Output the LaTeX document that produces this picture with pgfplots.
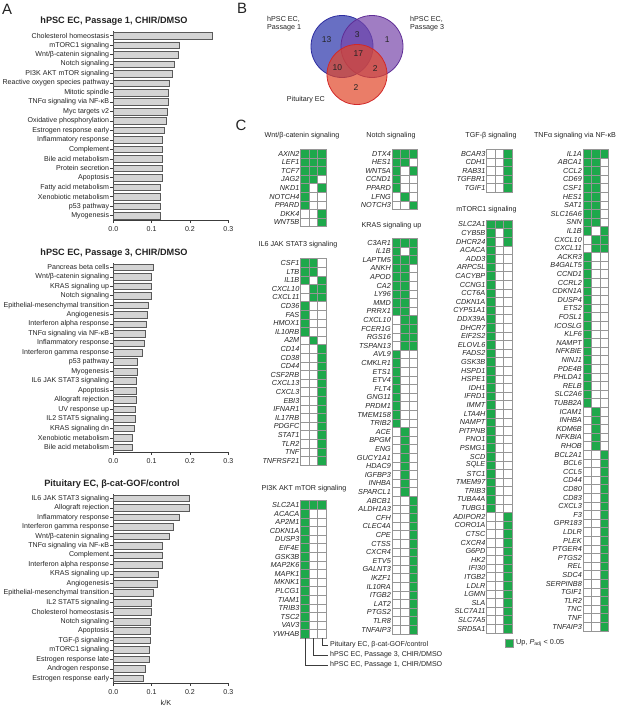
\documentclass[border=0pt]{standalone}
\usepackage{fontspec}
\setmainfont{Liberation Sans}
\usepackage{pgfplots}
\usepackage{pgfplotstable}
\pgfplotsset{compat=1.18}

\definecolor{upgreen}{RGB}{30,168,75}
\definecolor{cellline}{RGB}{150,150,150}
\definecolor{barfill}{RGB}{212,212,212}
\definecolor{bardraw}{RGB}{90,90,90}
\definecolor{axgray}{RGB}{60,60,60}
\definecolor{txt}{RGB}{35,35,35}
\definecolor{vblue}{RGB}{40,50,170}
\definecolor{vbluel}{RGB}{45,45,160}
\definecolor{vpurp}{RGB}{120,70,170}
\definecolor{vpurpl}{RGB}{95,45,150}
\definecolor{vred}{RGB}{225,70,40}
\definecolor{vredl}{RGB}{210,40,40}

\newcommand{\fs}[1]{\fontsize{#1}{#1}\selectfont}

\pgfplotsset{
  barpanel/.style={
    scale only axis, width=115bp, height=189.4bp,
    xmin=0, xmax=0.3, ymin=0.5, ymax=20.5,
    xbar, bar width=6.6bp,
    axis x line*=bottom, axis y line*=left,
    axis line style={-, draw=axgray, line width=0.6bp},
    xtick={0,0.1,0.2,0.3}, xticklabels={0.0,0.1,0.2,0.3},
    ytick={1,...,20},
    tick align=outside, major tick length=2.8bp,
    tick style={draw=axgray, line width=0.6bp},
    tick label style={font=\fs{7.1}, text=txt},
    yticklabel style={inner xsep=1.2bp},
    clip=false,
  },
  hbar/.style={fill=barfill, draw=bardraw, line width=0.5bp},
  gridpanel/.style={
    x=8.5bp, y=8.6bp, y dir=reverse,
    xmin=0.5, xmax=3.5, ymin=0.5,
    axis line style={draw=none}, xtick=\empty,
    major tick length=0pt, ytick style={draw=none},
    yticklabel style={font=\itshape\fs{7.3}, text=txt, inner xsep=1bp},
    point meta min=0, point meta max=1,
    colormap={gw}{color(0cm)=(white); color(1cm)=(upgreen)},
    clip=false,
  },
  cell/.style={only marks, mark=square*, mark size=4.3bp, scatter,
    point meta=explicit,
    scatter/use mapped color={draw=cellline, fill=mapped color, line width=0.45bp}},
}

% gene tables: columns a = Passage 1, b = Passage 3, c = Pituitary
\pgfplotstableread{
g a b c
AXIN2 1 1 1
LEF1 1 1 1
TCF7 1 1 1
JAG2 1 1 0
NKD1 1 0 1
NOTCH4 1 0 0
PPARD 1 0 0
DKK4 0 0 1
WNT5B 0 0 1
}\wnt
\pgfplotstableread{
g a b c
CSF1 1 1 0
LTB 1 1 0
IL1B 1 0 1
CXCL10 0 1 1
CXCL11 0 1 1
CD36 1 0 0
FAS 1 0 0
HMOX1 1 0 0
IL10RB 1 0 0
A2M 0 1 0
CD14 0 0 1
CD38 0 0 1
CD44 0 0 1
CSF2RB 0 0 1
CXCL13 0 0 1
CXCL3 0 0 1
EBI3 0 0 1
IFNAR1 0 0 1
IL17RB 0 0 1
PDGFC 0 0 1
STAT1 0 0 1
TLR2 0 0 1
TNF 0 0 1
TNFRSF21 0 0 1
}\ilsix
\pgfplotstableread{
g a b c
SLC2A1 1 1 1
ACACA 1 0 0
AP2M1 1 0 0
CDKN1A 1 0 0
DUSP3 1 0 0
EIF4E 1 0 0
GSK3B 1 0 0
MAP2K6 1 0 0
MAPK1 1 0 0
MKNK1 1 0 0
PLCG1 1 0 0
TIAM1 1 0 0
TRIB3 1 0 0
TSC2 1 0 0
VAV3 1 0 0
YWHAB 1 0 0
}\pik
\pgfplotstableread{
g a b c
DTX4 1 1 1
HES1 1 1 0
WNT5A 1 0 1
CCND1 1 0 0
PPARD 1 0 0
LFNG 0 1 0
NOTCH3 0 0 1
}\notch
\pgfplotstableread{
g a b c
C3AR1 1 1 1
IL1B 1 0 1
LAPTM5 1 1 1
ANKH 1 1 0
APOD 1 1 0
CA2 1 1 0
LY96 1 1 0
MMD 1 1 0
PRRX1 1 1 0
CXCL10 0 1 1
FCER1G 0 1 1
RGS16 0 1 1
TSPAN13 0 1 1
AVL9 1 0 0
CMKLR1 1 0 0
ETS1 1 0 0
ETV4 1 0 0
FLT4 1 0 0
GNG11 1 0 0
PRDM1 1 0 0
TMEM158 1 0 0
TRIB2 1 0 0
ACE 0 1 0
BPGM 0 1 0
ENG 0 1 0
GUCY1A1 0 1 0
HDAC9 0 1 0
IGFBP3 0 1 0
INHBA 0 1 0
SPARCL1 0 1 0
ABCB1 0 0 1
ALDH1A3 0 0 1
CFH 0 0 1
CLEC4A 0 0 1
CPE 0 0 1
CTSS 0 0 1
CXCR4 0 0 1
ETV5 0 0 1
GALNT3 0 0 1
IKZF1 0 0 1
IL10RA 0 0 1
ITGB2 0 0 1
LAT2 0 0 1
PTGS2 0 0 1
TLR8 0 0 1
TNFAIP3 0 0 1
}\kras
\pgfplotstableread{
g a b c
BCAR3 0 0 1
CDH1 0 0 1
RAB31 0 0 1
TGFBR1 0 0 1
TGIF1 0 0 1
}\tgf
\pgfplotstableread{
g a b c
SLC2A1 1 1 1
CYB5B 1 0 1
DHCR24 1 0 1
ACACA 1 0 0
ADD3 1 0 0
ARPC5L 1 0 0
CACYBP 1 0 0
CCNG1 1 0 0
CCT6A 1 0 0
CDKN1A 1 0 0
CYP51A1 1 0 0
DDX39A 1 0 0
DHCR7 1 0 0
EIF2S2 1 0 0
ELOVL6 1 0 0
FADS2 1 0 0
GSK3B 1 0 0
HSPD1 1 0 0
HSPE1 1 0 0
IDH1 1 0 0
IFRD1 1 0 0
IMMT 1 0 0
LTA4H 1 0 0
NAMPT 1 0 0
PITPNB 1 0 0
PNO1 1 0 0
PSMG1 1 0 0
SCD 1 0 0
SQLE 1 0 0
STC1 1 0 0
TMEM97 1 0 0
TRIB3 1 0 0
TUBA4A 1 0 0
TUBG1 1 0 0
ADIPOR2 0 0 1
CORO1A 0 0 1
CTSC 0 0 1
CXCR4 0 0 1
G6PD 0 0 1
HK2 0 0 1
IFI30 0 0 1
ITGB2 0 0 1
LDLR 0 0 1
LGMN 0 0 1
SLA 0 0 1
SLC7A11 0 0 1
SLC7A5 0 0 1
SRD5A1 0 0 1
}\mtor
\pgfplotstableread{
g a b c
IL1A 1 1 1
ABCA1 1 1 0
CCL2 1 1 0
CD69 1 1 0
CSF1 1 1 0
HES1 1 1 0
SAT1 1 1 0
SLC16A6 1 1 0
SNN 1 1 0
IL1B 1 0 1
CXCL10 0 1 1
CXCL11 0 1 1
ACKR3 1 0 0
B4GALT5 1 0 0
CCND1 1 0 0
CCRL2 1 0 0
CDKN1A 1 0 0
DUSP4 1 0 0
ETS2 1 0 0
FOSL1 1 0 0
ICOSLG 1 0 0
KLF6 1 0 0
NAMPT 1 0 0
NFKBIE 1 0 0
NINJ1 1 0 0
PDE4B 1 0 0
PHLDA1 1 0 0
RELB 1 0 0
SLC2A6 1 0 0
TUBB2A 1 0 0
ICAM1 0 1 0
INHBA 0 1 0
KDM6B 0 1 0
NFKBIA 0 1 0
RHOB 0 1 0
BCL2A1 0 0 1
BCL6 0 0 1
CCL5 0 0 1
CD44 0 0 1
CD80 0 0 1
CD83 0 0 1
CXCL3 0 0 1
F3 0 0 1
GPR183 0 0 1
LDLR 0 0 1
PLEK 0 0 1
PTGER4 0 0 1
PTGS2 0 0 1
REL 0 0 1
SDC4 0 0 1
SERPINB8 0 0 1
TGIF1 0 0 1
TLR2 0 0 1
TNC 0 0 1
TNF 0 0 1
TNFAIP3 0 0 1
}\tnf

\newcommand{\cells}[1]{%
  \addplot[cell] table[x expr=1, y expr=\coordindex+1, meta=a]{#1};
  \addplot[cell] table[x expr=2, y expr=\coordindex+1, meta=b]{#1};
  \addplot[cell] table[x expr=3, y expr=\coordindex+1, meta=c]{#1};
}

\begin{document}
\begin{tikzpicture}
\path[use as bounding box] (0,0) rectangle (617bp,-710bp);

% ---------- panel letters ----------
\node[font=\fs{15}, text=txt] at (7bp,-9bp) {A};
\node[font=\fs{15}, text=txt] at (242bp,-8bp) {B};
\node[font=\fs{15}, text=txt] at (241bp,-125bp) {C};

% ---------- panel A ----------
\node[font=\bfseries\fs{9.2}, text=txt] at (114bp,-20.7bp) {hPSC EC, Passage 1, CHIR/DMSO};
\begin{axis}[barpanel, at={(113.3bp,-220.4bp)}, anchor=south west,
  yticklabels={Myogenesis, p53 pathway, Xenobiotic metabolism, Fatty acid metabolism,
    Apoptosis, Protein secretion, Bile acid metabolism, Complement,
    Inflammatory response, Estrogen response early, Oxidative phosphorylation,
    Myc targets v2, TNFα signaling via NF-κB, Mitotic spindle,
    Reactive oxygen species pathway, PI3K AKT mTOR signaling, Notch signaling,
    Wnt/β-catenin signaling, mTORC1 signaling, Cholesterol homeostasis}]
\addplot[hbar] coordinates {
  (0.123,1) (0.123,2) (0.123,3) (0.123,4) (0.128,5) (0.129,6) (0.129,7)
  (0.129,8) (0.129,9) (0.133,10) (0.138,11) (0.142,12) (0.144,13) (0.144,14)
  (0.147,15) (0.155,16) (0.159,17) (0.170,18) (0.173,19) (0.259,20)};
\end{axis}

\node[font=\bfseries\fs{9.2}, text=txt] at (114bp,-253.3bp) {hPSC EC, Passage 3, CHIR/DMSO};
\begin{axis}[barpanel, at={(113.3bp,-452bp)}, anchor=south west,
  yticklabels={Bile acid metabolism, Xenobiotic metabolism, KRAS signaling dn,
    IL2 STAT5 signaling, UV response up, Allograft rejection, Apoptosis,
    IL6 JAK STAT3 signaling, Myogenesis, p53 pathway, Interferon gamma response,
    Inflammatory response, TNFα signaling via NF-κB, Interferon alpha response,
    Angiogenesis, Epithelial-mesenchymal transition, Notch signaling,
    KRAS signaling up, Wnt/β-catenin signaling, Pancreas beta cells}]
\addplot[hbar] coordinates {
  (0.050,1) (0.050,2) (0.055,3) (0.056,4) (0.056,5) (0.059,6) (0.060,7)
  (0.061,8) (0.063,9) (0.063,10) (0.075,11) (0.080,12) (0.084,13) (0.087,14)
  (0.088,15) (0.090,16) (0.098,17) (0.100,18) (0.100,19) (0.104,20)};
\end{axis}

\node[font=\bfseries\fs{9.2}, text=txt] at (112bp,-484.3bp) {Pituitary EC, β-cat-GOF/control};
\begin{axis}[barpanel, at={(113.3bp,-683bp)}, anchor=south west,
  yticklabels={Estrogen response early, Androgen response, Estrogen response late,
    mTORC1 signaling, TGF-β signaling, Apoptosis, Notch signaling,
    Cholesterol homeostasis, IL2 STAT5 signaling, Epithelial-mesenchymal transition,
    Angiogenesis, KRAS signaling up, Interferon alpha response, Complement,
    TNFα signaling via NF-κB, Wnt/β-catenin signaling, Interferon gamma response,
    Inflammatory response, Allograft rejection, IL6 JAK STAT3 signaling}]
\addplot[hbar] coordinates {
  (0.079,1) (0.083,2) (0.094,3) (0.094,4) (0.097,5) (0.097,6) (0.097,7)
  (0.098,8) (0.100,9) (0.103,10) (0.115,11) (0.118,12) (0.127,13) (0.128,14)
  (0.128,15) (0.147,16) (0.157,17) (0.173,18) (0.198,19) (0.199,20)};
\end{axis}
\node[font=\fs{7.3}, text=txt] at (166bp,-703bp) {k/K};

% ---------- panel B (Venn) ----------
\begin{axis}[at={(300bp,-110bp)}, anchor=south west, x=1bp, y=1bp,
  xmin=300, xmax=420, ymin=-110, ymax=0, hide axis, clip=false]
\addplot[only marks, mark=*, mark size=31bp,
  mark options={fill=vblue, fill opacity=0.7, draw=vbluel, line width=0.8bp}]
  coordinates {(342,-46.5)};
\addplot[only marks, mark=*, mark size=31bp,
  mark options={fill=vpurp, fill opacity=0.7, draw=vpurpl, line width=0.8bp}]
  coordinates {(372,-46.5)};
\addplot[only marks, mark=*, mark size=30bp,
  mark options={fill=vred, fill opacity=0.7, draw=vredl, line width=0.8bp}]
  coordinates {(357,-74.5)};
\end{axis}
\begin{scope}[every node/.style={font=\fs{8.5}, text=txt}]
\node at (326.7bp,-40bp) {13};
\node at (357.3bp,-34.3bp) {3};
\node at (387.3bp,-40bp) {1};
\node at (358.3bp,-54bp) {17};
\node at (337.3bp,-67.7bp) {10};
\node at (375.3bp,-68.3bp) {2};
\node at (356bp,-87.3bp) {2};
\end{scope}
\node[font=\fs{7.2}, text=txt, anchor=west, align=left, inner sep=0pt] at (267bp,-23.5bp) {hPSC EC,\\[1.5bp]Passage 1};
\node[font=\fs{7.2}, text=txt, anchor=west, align=left, inner sep=0pt] at (410bp,-23.5bp) {hPSC EC,\\[1.5bp]Passage 3};
\node[font=\fs{7.2}, text=txt, anchor=east, inner sep=0pt] at (325bp,-100bp) {Pituitary EC};

% ---------- panel C (gene grids) ----------
\begin{scope}[every node/.style={font=\fs{7.2}, text=txt}]
\node at (302bp,-136bp) {Wnt/β-catenin signaling};
\node at (298bp,-245bp) {IL6 JAK STAT3 signaling};
\node at (304bp,-489bp) {PI3K AKT mTOR signaling};
\node at (391bp,-136bp) {Notch signaling};
\node at (391.5bp,-226bp) {KRAS signaling up};
\node at (491bp,-136bp) {TGF-β signaling};
\node at (486.5bp,-209.3bp) {mTORC1 signaling};
\node at (575bp,-136bp) {TNFα signaling via NF-κB};
\end{scope}

\begin{axis}[gridpanel, at={(300.5bp,-149.2bp)}, anchor=north west, ymax=9.5,
  ytick={1,...,9}, yticklabels from table={\wnt}{g}]
\cells{\wnt}
\end{axis}
\begin{axis}[gridpanel, at={(300.5bp,-258.7bp)}, anchor=north west, ymax=24.5,
  ytick={1,...,24}, yticklabels from table={\ilsix}{g}]
\cells{\ilsix}
\end{axis}
\begin{axis}[gridpanel, at={(300.5bp,-500.7bp)}, anchor=north west, ymax=16.5,
  ytick={1,...,16}, yticklabels from table={\pik}{g}]
\cells{\pik}
\end{axis}
\begin{axis}[gridpanel, at={(392bp,-149.2bp)}, anchor=north west, ymax=7.5,
  ytick={1,...,7}, yticklabels from table={\notch}{g}]
\cells{\notch}
\end{axis}
\begin{axis}[gridpanel, at={(392bp,-238.2bp)}, anchor=north west, ymax=46.5,
  ytick={1,...,46}, yticklabels from table={\kras}{g}]
\cells{\kras}
\end{axis}
\begin{axis}[gridpanel, at={(486.5bp,-149.2bp)}, anchor=north west, ymax=5.5,
  ytick={1,...,5}, yticklabels from table={\tgf}{g}]
\cells{\tgf}
\end{axis}
\begin{axis}[gridpanel, at={(486.5bp,-220bp)}, anchor=north west, ymax=48.5,
  ytick={1,...,48}, yticklabels from table={\mtor}{g}]
\cells{\mtor}
\end{axis}
\begin{axis}[gridpanel, at={(583bp,-149.2bp)}, anchor=north west, ymax=56.5,
  ytick={1,...,56}, yticklabels from table={\tnf}{g}]
\cells{\tnf}
\end{axis}

% ---------- column key below the PI3K grid ----------
\begin{scope}[draw=axgray, line width=0.5bp]
\draw (321.75bp,-638bp) -- (321.75bp,-645bp) -- (328bp,-645bp);
\draw (313.25bp,-638bp) -- (313.25bp,-655bp) -- (328bp,-655bp);
\draw (304.75bp,-638bp) -- (304.75bp,-665bp) -- (328bp,-665bp);
\end{scope}
\begin{scope}[every node/.style={font=\fs{7.1}, text=txt, anchor=west, inner sep=0pt}]
\node at (330bp,-645bp) {Pituitary EC, β-cat-GOF/control};
\node at (330bp,-655bp) {hPSC EC, Passage 3, CHIR/DMSO};
\node at (330bp,-665bp) {hPSC EC, Passage 1, CHIR/DMSO};
\end{scope}
\node[draw=cellline, fill=upgreen, minimum size=8bp, inner sep=0pt, line width=0.45bp] at (509bp,-643bp) {};
\node[font=\fs{7.3}, text=txt, anchor=west, inner sep=0pt] at (516bp,-643bp) {Up, \textit{P}\textsubscript{adj} < 0.05};
\end{tikzpicture}
\end{document}
